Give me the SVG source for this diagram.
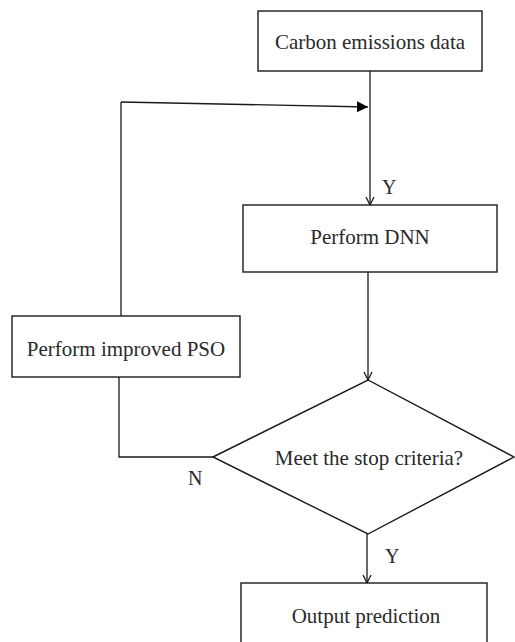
<svg xmlns="http://www.w3.org/2000/svg" width="515" height="642" viewBox="0 0 515 642">
<defs>
<style>
.box{fill:#fff;stroke:#1a1a1a;stroke-width:1.4}
.ln{fill:none;stroke:#1a1a1a;stroke-width:1.3}
.t{font-family:'Liberation Serif','Tinos','Times New Roman',Times,serif;font-size:21px;fill:#2a2a2a;text-anchor:middle}
.lbl{font-family:'Liberation Serif','Tinos','Times New Roman',Times,serif;font-size:20px;fill:#2a2a2a}
</style>
<marker id="open" viewBox="0 0 10 10" refX="9" refY="5" markerWidth="10" markerHeight="10" markerUnits="userSpaceOnUse" orient="auto">
<path d="M1,1 L9,5 L1,9" fill="none" stroke="#1a1a1a" stroke-width="1.3"/>
</marker>
<marker id="fill" viewBox="0 0 10 10" refX="10" refY="5" markerWidth="11" markerHeight="11" markerUnits="userSpaceOnUse" orient="auto">
<path d="M0,0 L10,5 L0,10 Z" fill="#000"/>
</marker>
</defs>
<g id="connectors">
<line class="ln" x1="370" y1="71" x2="370" y2="205" marker-end="url(#open)"/>
<line class="ln" x1="121" y1="102" x2="368" y2="107" marker-end="url(#fill)"/>
<line class="ln" x1="121" y1="102" x2="121" y2="316"/>
<line class="ln" x1="368" y1="272" x2="368" y2="380" marker-end="url(#open)"/>
<polyline class="ln" points="119,377 119,457 213,457"/>
<line class="ln" x1="367" y1="534" x2="367" y2="583" marker-end="url(#open)"/>
<text class="lbl" x="382" y="194">Y</text>
<text class="lbl" x="188" y="485">N</text>
<text class="lbl" x="385" y="563">Y</text>
</g>
<g id="n1">
<rect class="box" x="258" y="11" width="224" height="60"/>
<text class="t" x="370" y="49">Carbon emissions data</text>
</g>
<g id="n2">
<rect class="box" x="243" y="205" width="254" height="67"/>
<text class="t" x="370" y="244">Perform DNN</text>
</g>
<g id="n3">
<rect class="box" x="12" y="316" width="228" height="61"/>
<text class="t" x="126" y="356">Perform improved PSO</text>
</g>
<g id="n4">
<polygon class="box" points="213,457 368,380 514,457 368,534"/>
<text class="t" x="369" y="465">Meet the stop criteria?</text>
</g>
<g id="n5">
<rect class="box" x="241" y="583" width="246" height="70"/>
<text class="t" x="366" y="623">Output prediction</text>
</g>
</svg>
